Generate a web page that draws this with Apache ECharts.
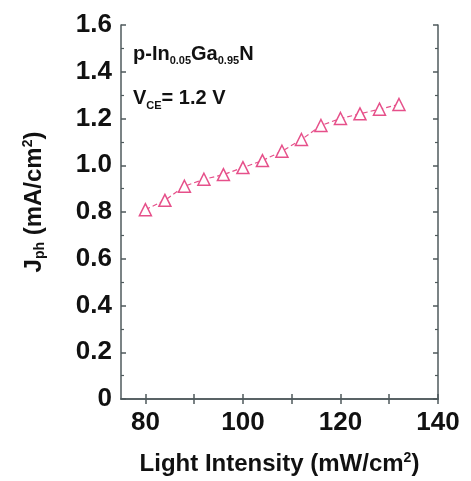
<!DOCTYPE html>
<html>
<head>
<meta charset="utf-8">
<script src="https://cdn.jsdelivr.net/npm/echarts@6/dist/echarts.min.js"></script>
<style>html,body{margin:0;padding:0;background:#fff;}#c{width:471px;height:481px;}</style>
</head>
<body>
<div id="c"></div>
<script>
var intensity = [80, 84, 88, 92, 96, 100, 104, 108, 112, 116, 120, 124, 128, 132];
var jph = [0.81, 0.85, 0.91, 0.94, 0.96, 0.99, 1.02, 1.06, 1.11, 1.17, 1.20, 1.22, 1.24, 1.26];
var xLabels = [80, 100, 120, 140];
var xTicks = [80, 90, 100, 110, 120, 130, 140];

var FONT = 'Liberation Sans';
var axisColor = '#4f5a5c';
var pink = '#e6508a';

var chart = echarts.init(document.getElementById('c'), null, {renderer: 'canvas'});
var points = intensity.map(function (x, i) { return [x, jph[i]]; });

function yFmt(v) {
  if (Math.abs(v) < 1e-9) return '0';
  return v.toFixed(1);
}

chart.setOption({
  animation: false,
  backgroundColor: '#fff',
  grid: {left: 121, right: 33, top: 25, bottom: 79},
  xAxis: [{
    type: 'value', min: 75, max: 140,
    position: 'bottom',
    axisLine: {show: true, lineStyle: {color: axisColor, width: 1.5}},
    axisTick: {show: true, inside: true, length: 5, customValues: xTicks, lineStyle: {color: axisColor, width: 1.5}},
    axisLabel: {customValues: xLabels, color: '#111', fontFamily: FONT, fontWeight: 'bold', fontSize: 26, margin: 11},
    splitLine: {show: false},
    name: 'Light Intensity (mW/cm{sup|2})',
    nameLocation: 'middle', nameGap: 52,
    nameTextStyle: {
      color: '#111', fontFamily: FONT, fontWeight: 'bold', fontSize: 24,
      rich: {sup: {fontSize: 14, fontFamily: FONT, fontWeight: 'bold', color: '#111', padding: [0, 0, 12, 0]}}
    }
  }, {
    type: 'value', min: 75, max: 140,
    position: 'top',
    axisLine: {show: true, lineStyle: {color: axisColor, width: 1.5}},
    axisTick: {show: true, inside: true, length: 5, customValues: xTicks, lineStyle: {color: axisColor, width: 1.5}},
    axisLabel: {show: false},
    splitLine: {show: false}
  }],
  yAxis: [{
    type: 'value', min: 0, max: 1.6, interval: 0.2,
    position: 'left',
    minorTick: {show: true, splitNumber: 2, length: 3, lineStyle: {color: axisColor, width: 1.2}},
    axisLine: {show: true, lineStyle: {color: axisColor, width: 1.5}},
    axisTick: {show: true, inside: true, length: 5, lineStyle: {color: axisColor, width: 1.5}},
    axisLabel: {color: '#111', fontFamily: FONT, fontWeight: 'bold', fontSize: 26, margin: 9, formatter: yFmt},
    splitLine: {show: false},
    name: 'J{sub|ph} (mA/cm{sup|2})',
    nameLocation: 'middle', nameGap: 74, nameRotate: 90,
    nameTextStyle: {
      color: '#111', fontFamily: FONT, fontWeight: 'bold', fontSize: 24,
      padding: [0, 0, 0, 20],
      rich: {
        sub: {fontSize: 14, fontFamily: FONT, fontWeight: 'bold', color: '#111', padding: [12, 0, 0, 0]},
        sup: {fontSize: 14, fontFamily: FONT, fontWeight: 'bold', color: '#111', padding: [0, 0, 12, 0]}
      }
    }
  }, {
    type: 'value', min: 0, max: 1.6, interval: 0.2,
    position: 'right',
    minorTick: {show: true, splitNumber: 2, length: 3, lineStyle: {color: axisColor, width: 1.2}},
    axisLine: {show: true, lineStyle: {color: axisColor, width: 1.5}},
    axisTick: {show: true, inside: true, length: 5, lineStyle: {color: axisColor, width: 1.5}},
    axisLabel: {show: false},
    splitLine: {show: false}
  }],
  graphic: [{
    type: 'text', left: 133, top: 44,
    style: {
      text: 'p-In{sub|0.05}Ga{sub|0.95}N',
      fill: '#111', font: 'bold 20px "Liberation Sans"',
      rich: {sub: {fontSize: 11, fontFamily: FONT, fontWeight: 'bold', fill: '#111', padding: [13, 0, 0, 0]}}
    }
  }, {
    type: 'text', left: 133, top: 88,
    style: {
      text: 'V{sub|CE}= 1.2 V',
      fill: '#111', font: 'bold 20px "Liberation Sans"',
      rich: {sub: {fontSize: 11, fontFamily: FONT, fontWeight: 'bold', fill: '#111', padding: [15, 0, 0, 0]}}
    }
  }],
  series: [{
    type: 'line',
    data: points,
    symbol: 'triangle', symbolSize: 12,
    itemStyle: {color: '#fff', borderColor: pink, borderWidth: 1.5},
    lineStyle: {color: pink, width: 1.2, type: [5, 3]},
    z: 3
  }]
});
</script>
</body>
</html>
